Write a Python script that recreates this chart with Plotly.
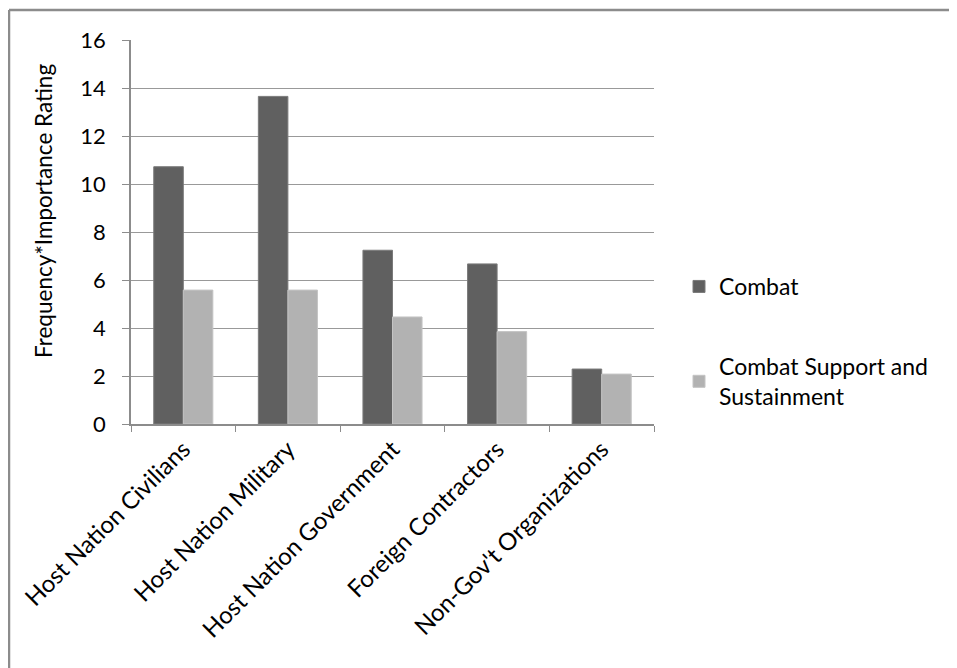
import plotly.graph_objects as go

categories = ["Host Nation Civilians", "Host Nation Military", "Host Nation Government",
              "Foreign Contractors", "Non-Gov't Organizations"]
combat = [10.72, 13.65, 7.24, 6.67, 2.29]
support = [5.58, 5.58, 4.46, 3.85, 2.08]
series_names = ["Combat", "Combat Support and<br>Sustainment"]
y_ticks = [0, 2, 4, 6, 8, 10, 12, 14, 16]

# the page body adds an 8px offset; work in reference pixel coordinates
OFF = 8
W, H = 957 - OFF, 668 - OFF
L, R, T, B = 131 - OFF, 957 - 654, 40 - OFF, 668 - 424
PW, PH = W - L - R, H - T - B

def px_x(x):
    return (x - OFF - L) / PW

def px_y(y):
    return 1 - (y - OFF - T) / PH

FONT = "Lato"
grid = "#999999"

fig = go.Figure()
fig.add_trace(go.Bar(x=categories, y=combat, name=series_names[0], legendgroup="a",
                     marker=dict(color="#606060", line=dict(color="#7a7a7a", width=1))))
fig.add_trace(go.Bar(x=categories, y=support, name=series_names[1], legendgroup="b",
                     marker=dict(color="#b2b2b2", line=dict(color="#c4c4c4", width=1))))

fig.update_layout(
    width=W, height=H,
    margin=dict(l=L, r=R, t=T, b=B, autoexpand=False),
    paper_bgcolor="white", plot_bgcolor="white",
    barmode="group", bargap=0.435, bargroupgap=0,
    font=dict(family=FONT, size=23, color="#000000"),
    showlegend=True,
    legend=dict(x=px_x(679), y=px_y(265), xanchor="left", yanchor="top",
                font=dict(family=FONT, size=23), tracegroupgap=47,
                bgcolor="rgba(0,0,0,0)"),
    xaxis=dict(showline=True, linecolor="#8c8c8c", linewidth=1.5, ticks="outside",
               tickson="boundaries", ticklen=6, tickcolor="#8c8c8c", tickangle=-45,
               tickfont=dict(family=FONT, size=24), showgrid=False),
    yaxis=dict(range=[0, 16], tickvals=y_ticks, showline=True, linecolor="#8c8c8c", linewidth=1.5,
               ticks="outside", ticklen=7, tickcolor="#8c8c8c", showgrid=True, gridcolor=grid,
               gridwidth=1.3, zeroline=False, ticklabelstandoff=12,
               tickfont=dict(family=FONT, size=22)),
    annotations=[dict(text="Frequency*Importance Rating", xref="paper", yref="paper",
                      x=px_x(43), y=px_y(211), textangle=-90, showarrow=False,
                      font=dict(family=FONT, size=22.5), xanchor="center", yanchor="middle")],
    shapes=[
        dict(type="line", xref="paper", yref="paper", x0=px_x(9), x1=px_x(970),
             y0=px_y(10), y1=px_y(10), line=dict(color="#8c8c8c", width=2.5)),
        dict(type="line", xref="paper", yref="paper", x0=px_x(9), x1=px_x(9),
             y0=px_y(10), y1=px_y(680), line=dict(color="#8c8c8c", width=2.5)),
    ],
)

fig.write_html("out.html")
